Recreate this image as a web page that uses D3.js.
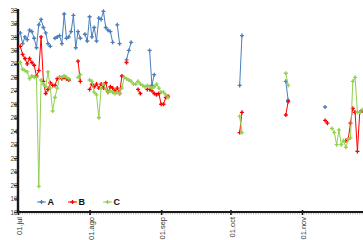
<!DOCTYPE html>
<html>
<head>
<meta charset="utf-8">
<script src="https://cdn.jsdelivr.net/npm/d3@7"></script>
<style>
  body { margin: 0; background: #fff; }
  svg { display: block; font-family: "Liberation Sans", Arial, sans-serif; }
</style>
</head>
<body>
<svg id="chart" width="363" height="240"></svg>
<script>
var monthTicks = ["2013-07-01", "2013-08-01", "2013-09-01", "2013-10-01", "2013-11-01"];
var monthLabels = ["01.jul", "01.ago", "01.sep", "01.oct", "01.nov"];
var yTicks = [18, 19, 20, 21, 22, 23, 24, 25, 26, 27, 28, 29, 30, 31, 32, 33];
var seriesNames = ["A", "B", "C"];
var seriesColors = ["#4a7ebb", "#ff0000", "#92d050"];

var seriesA = [
  ["2013-07-02", 31.3], ["2013-07-03", 30.5], ["2013-07-04", 31.0], ["2013-07-05", 30.8],
  ["2013-07-06", 31.5], ["2013-07-07", 31.4], ["2013-07-08", 30.9], ["2013-07-09", 30.2],
  ["2013-07-10", 31.9], ["2013-07-11", 32.3], ["2013-07-12", 31.7], ["2013-07-13", 31.3],
  ["2013-07-14", 30.5], ["2013-07-15", 30.3],
  ["2013-07-17", 30.9], ["2013-07-18", 31.0], ["2013-07-19", 31.1], ["2013-07-20", 30.5],
  ["2013-07-21", 32.7], ["2013-07-22", 30.9], ["2013-07-23", 31.0], ["2013-07-24", 31.4],
  ["2013-07-25", 32.6], ["2013-07-26", 30.2], ["2013-07-27", 31.4], ["2013-07-28", 30.9],
  ["2013-07-30", 31.2], ["2013-07-31", 30.7], ["2013-08-01", 32.5], ["2013-08-02", 31.0],
  ["2013-08-03", 31.7], ["2013-08-04", 30.7], ["2013-08-05", 32.4], ["2013-08-06", 32.3],
  ["2013-08-07", 32.9], ["2013-08-08", 31.7], ["2013-08-09", 31.5], ["2013-08-10", 31.4],
  ["2013-08-11", 30.6],
  ["2013-08-13", 31.9], ["2013-08-14", 30.5],
  ["2013-08-17", 29.3], ["2013-08-18", 30.0], ["2013-08-19", 30.6],
  ["2013-08-27", 30.0], ["2013-08-28", 27.4], ["2013-08-29", 28.2],
  ["2013-10-05", 27.4], ["2013-10-06", 31.1],
  ["2013-10-25", 27.7], ["2013-10-26", 26.3],
  ["2013-11-11", 25.8]
];

var seriesB = [
  ["2013-07-02", 30.3], ["2013-07-03", 29.7], ["2013-07-04", 29.4], ["2013-07-05", 29.0],
  ["2013-07-06", 29.4], ["2013-07-07", 29.1], ["2013-07-08", 28.9], ["2013-07-09", 28.1],
  ["2013-07-10", 28.5], ["2013-07-11", 31.0], ["2013-07-12", 27.7], ["2013-07-13", 26.8],
  ["2013-07-14", 27.1], ["2013-07-15", 27.6], ["2013-07-16", 27.4], ["2013-07-17", 27.4],
  ["2013-07-18", 27.9], ["2013-07-19", 28.0], ["2013-07-20", 27.9], ["2013-07-21", 28.0],
  ["2013-07-22", 27.9], ["2013-07-23", 27.8],
  ["2013-07-27", 29.2], ["2013-07-28", 27.7],
  ["2013-08-01", 27.1], ["2013-08-02", 27.5], ["2013-08-03", 27.3], ["2013-08-04", 27.5],
  ["2013-08-05", 27.2], ["2013-08-06", 27.5], ["2013-08-07", 27.2], ["2013-08-08", 27.6],
  ["2013-08-09", 26.9], ["2013-08-10", 27.3], ["2013-08-11", 27.2], ["2013-08-12", 27.0],
  ["2013-08-13", 27.2], ["2013-08-14", 26.8], ["2013-08-15", 28.1],
  ["2013-08-17", 29.1],
  ["2013-08-22", 27.1], ["2013-08-23", 26.8],
  ["2013-08-26", 27.1], ["2013-08-27", 27.1], ["2013-08-28", 27.0], ["2013-08-29", 26.8],
  ["2013-08-30", 26.7], ["2013-08-31", 26.8], ["2013-09-01", 26.0], ["2013-09-02", 26.0],
  ["2013-09-03", 26.5], ["2013-09-04", 26.6],
  ["2013-10-05", 23.9], ["2013-10-06", 25.4],
  ["2013-10-25", 25.2], ["2013-10-26", 26.2],
  ["2013-11-11", 24.8], ["2013-11-12", 24.6],
  ["2013-11-20", 23.3], ["2013-11-21", 23.4], ["2013-11-22", 24.6], ["2013-11-23", 25.7],
  ["2013-11-24", 25.4], ["2013-11-25", 22.5], ["2013-11-26", 25.4], ["2013-11-27", 25.5]
];

var seriesC = [
  ["2013-07-02", 29.1], ["2013-07-03", 28.6], ["2013-07-04", 28.5], ["2013-07-05", 28.4],
  ["2013-07-06", 27.9], ["2013-07-07", 28.1], ["2013-07-08", 28.0], ["2013-07-09", 28.0],
  ["2013-07-10", 19.9], ["2013-07-11", 27.8], ["2013-07-12", 27.5], ["2013-07-13", 27.3],
  ["2013-07-14", 28.4], ["2013-07-15", 27.2], ["2013-07-16", 25.5], ["2013-07-17", 26.5],
  ["2013-07-18", 27.2], ["2013-07-19", 28.0], ["2013-07-20", 28.0], ["2013-07-21", 28.1],
  ["2013-07-22", 28.0], ["2013-07-23", 27.9],
  ["2013-07-27", 28.0], ["2013-07-28", 28.2],
  ["2013-08-01", 27.8], ["2013-08-02", 27.7], ["2013-08-03", 26.9], ["2013-08-04", 26.7],
  ["2013-08-05", 25.0], ["2013-08-06", 27.2], ["2013-08-07", 27.5], ["2013-08-08", 27.1],
  ["2013-08-09", 26.9], ["2013-08-10", 27.0], ["2013-08-11", 26.9], ["2013-08-12", 26.8],
  ["2013-08-13", 26.9], ["2013-08-14", 26.8], ["2013-08-15", 27.2], ["2013-08-16", 28.0],
  ["2013-08-17", 27.9], ["2013-08-18", 27.8], ["2013-08-19", 27.7], ["2013-08-20", 27.5],
  ["2013-08-21", 27.5], ["2013-08-22", 27.7], ["2013-08-23", 27.5], ["2013-08-24", 27.4],
  ["2013-08-25", 27.3], ["2013-08-26", 27.4], ["2013-08-27", 27.3], ["2013-08-28", 27.2],
  ["2013-08-29", 27.3], ["2013-08-30", 27.5], ["2013-08-31", 27.2], ["2013-09-01", 26.9],
  ["2013-09-02", 26.9], ["2013-09-03", 26.7], ["2013-09-04", 26.5],
  ["2013-10-05", 25.1], ["2013-10-06", 23.9],
  ["2013-10-25", 28.3], ["2013-10-26", 27.4],
  ["2013-11-14", 24.2], ["2013-11-15", 23.9], ["2013-11-16", 23.0], ["2013-11-17", 24.1],
  ["2013-11-18", 23.0], ["2013-11-19", 23.3], ["2013-11-20", 22.8], ["2013-11-21", 23.4],
  ["2013-11-22", 23.5], ["2013-11-23", 27.7], ["2013-11-24", 28.0], ["2013-11-25", 25.4],
  ["2013-11-26", 25.4], ["2013-11-27", 25.6]
];

var parseDate = d3.utcParse("%Y-%m-%d");

var svg = d3.select("#chart"),
  width = +svg.attr("width"),
  height = +svg.attr("height");

var x = d3
  .scaleUtc()
  .domain([parseDate(monthTicks[0]), parseDate(monthTicks[4])])
  .range([18, 302]);

var y = d3.scaleLinear().domain([18, 33]).range([212, 10]);

// turn [date, value] pairs into points, with a break wherever a day is missing
function toPoints(pairs) {
  var out = [];
  pairs.forEach(function(p, i) {
    var date = parseDate(p[0]);
    if (i > 0 && d3.utcDay.count(out[out.length - 1].date, date) > 1) {
      out.push({ gap: true });
    }
    out.push({ date: date, value: p[1] });
  });
  return out;
}

var allSeries = [seriesA, seriesB, seriesC].map(function(pairs, i) {
  return { name: seriesNames[i], color: seriesColors[i], points: toPoints(pairs) };
});

// minor day ticks on the x axis
svg
  .append("g")
  .selectAll("line")
  .data(d3.utcDay.range(parseDate("2013-07-01"), parseDate("2013-12-10")))
  .enter()
  .append("line")
  .attr("x1", function(d) { return x(d); })
  .attr("x2", function(d) { return x(d); })
  .attr("y1", 212)
  .attr("y2", 214.5)
  .attr("stroke", "#8a8a8a")
  .attr("stroke-width", 0.6);

var xAxis = svg
  .append("g")
  .attr("transform", "translate(0,212)")
  .call(
    d3
      .axisBottom(x)
      .tickValues(monthTicks.map(parseDate))
      .tickFormat(function(d, i) { return monthLabels[i]; })
      .tickSizeOuter(0)
      .tickSize(3)
  );
xAxis.select(".domain").remove();
xAxis.selectAll(".tick line").attr("stroke", "#1a1a1a").attr("stroke-width", 1.6).attr("y1", -2);
xAxis
  .selectAll(".tick text")
  .attr("transform", "rotate(-90)")
  .attr("text-anchor", "end")
  .attr("x", -5)
  .attr("y", 0)
  .attr("dy", "0.5em")
  .attr("fill", "#333")
  .style("font-size", "7.5px");

svg
  .append("line")
  .attr("x1", 17)
  .attr("x2", width + 5)
  .attr("y1", 212)
  .attr("y2", 212)
  .attr("stroke", "#1a1a1a")
  .attr("stroke-width", 2);

svg
  .append("defs")
  .append("clipPath")
  .attr("id", "ylabel-clip")
  .append("rect")
  .attr("x", 6.6)
  .attr("y", 0)
  .attr("width", 20)
  .attr("height", height);

var yAxis = svg
  .append("g")
  .attr("transform", "translate(18,0)")
  .call(d3.axisLeft(y).tickValues(yTicks).tickSize(4).tickSizeOuter(0).tickPadding(3.5));
yAxis.select(".domain").remove();
yAxis.selectAll(".tick line").attr("stroke", "#1a1a1a").attr("stroke-width", 1.2);
yAxis.selectAll(".tick text").attr("fill", "#444").style("font-size", "6.5px");

// the left edge of the picture cuts the y labels
var yLabels = svg.append("g").attr("clip-path", "url(#ylabel-clip)");
yAxis.selectAll(".tick").each(function() {
  var t = d3.select(this);
  var tr = t.attr("transform");
  var txt = t.select("text").remove().node();
  yLabels.append("g").attr("transform", "translate(18,0) " + tr).node().appendChild(txt);
});

svg
  .append("line")
  .attr("x1", 18)
  .attr("x2", 18)
  .attr("y1", 9)
  .attr("y2", 213)
  .attr("stroke", "#1a1a1a")
  .attr("stroke-width", 2.4);

var line = d3
  .line()
  .defined(function(d) { return !d.gap; })
  .x(function(d) { return x(d.date); })
  .y(function(d) { return y(d.value); });

var marker = d3.symbol().type(d3.symbolCross).size(9);

allSeries.forEach(function(s) {
  var g = svg.append("g").attr("class", "series-" + s.name);
  g.append("path")
    .datum(s.points)
    .attr("d", line)
    .attr("fill", "none")
    .attr("stroke", s.color)
    .attr("stroke-width", 1);
  g.selectAll("path.pt")
    .data(s.points.filter(function(d) { return !d.gap; }))
    .enter()
    .append("path")
    .attr("class", "pt")
    .attr("d", marker)
    .attr("transform", function(d) {
      return "translate(" + x(d.date) + "," + y(d.value) + ")";
    })
    .attr("fill", s.color);
});

// legend
var legendX = [37, 68, 103];
var legend = svg
  .append("g")
  .selectAll("g")
  .data(allSeries)
  .enter()
  .append("g")
  .attr("transform", function(d, i) { return "translate(" + legendX[i] + ",202)"; });

legend
  .append("line")
  .attr("x1", 0)
  .attr("x2", 9)
  .attr("stroke", function(d) { return d.color; })
  .attr("stroke-width", 1);
legend
  .append("path")
  .attr("d", marker)
  .attr("transform", "translate(4.5,0)")
  .attr("fill", function(d) { return d.color; });
legend
  .append("text")
  .attr("x", 10.5)
  .attr("dy", "0.36em")
  .attr("fill", "#111")
  .style("font-size", "9px")
  .style("font-weight", "bold")
  .text(function(d) { return d.name; });
</script>
</body>
</html>
